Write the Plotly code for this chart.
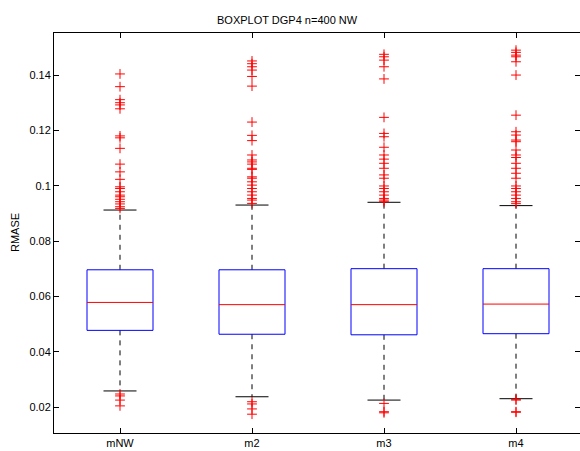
import plotly.graph_objects as go

categories = ["mNW", "m2", "m3", "m4"]
q1 = [0.0477, 0.0463, 0.0461, 0.0465]
median = [0.0578, 0.0570, 0.0570, 0.0572]
q3 = [0.0696, 0.0696, 0.0700, 0.0700]
lower_whisker = [0.0258, 0.0237, 0.0225, 0.0230]
upper_whisker = [0.0912, 0.0930, 0.0940, 0.0928]

outliers_mNW = [0.1404, 0.1358, 0.1311, 0.1300, 0.1292, 0.1278, 0.1180, 0.1173, 0.1135,
                0.1078, 0.1050, 0.1023, 0.0996, 0.0990, 0.0978, 0.0966, 0.0960, 0.0951,
                0.0942, 0.0934, 0.0924, 0.0918,
                0.0247, 0.0240, 0.0225, 0.0204]
outliers_m2 = [0.1451, 0.1441, 0.1430, 0.1418, 0.1395, 0.1360, 0.1230, 0.1182, 0.1163,
               0.1111, 0.1093, 0.1086, 0.1078, 0.1063, 0.1059, 0.1032, 0.1027, 0.1014,
               0.1002, 0.0990, 0.0978, 0.0966, 0.0954, 0.0948, 0.0936,
               0.0219, 0.0211, 0.0193, 0.0174]
outliers_m3 = [0.1475, 0.1466, 0.1454, 0.1430, 0.1386, 0.1247, 0.1189, 0.1177, 0.1139,
               0.1111, 0.1096, 0.1081, 0.1063, 0.1039, 0.1027, 0.0999, 0.0990, 0.0978,
               0.0966, 0.0954, 0.0948, 0.0942,
               0.0213, 0.0183, 0.0179]
outliers_m4 = [0.1490, 0.1482, 0.1472, 0.1466, 0.1448, 0.1400, 0.1255, 0.1195, 0.1183,
               0.1165, 0.1159, 0.1129, 0.1111, 0.1102, 0.1081, 0.1063, 0.1045, 0.1027,
               0.0999, 0.0990, 0.0978, 0.0966, 0.0954, 0.0942, 0.0935,
               0.0228, 0.0225, 0.0183, 0.0181]
outliers = [outliers_mNW, outliers_m2, outliers_m3, outliers_m4]

yticks = [0.02, 0.04, 0.06, 0.08, 0.1, 0.12, 0.14]

BOX_HALF = 0.25
CAP_HALF = 0.125

fig = go.Figure()
for i, name in enumerate(categories):
    x = i + 1
    # whiskers (dashed)
    fig.add_trace(go.Scatter(x=[x, x, None, x, x],
                             y=[q3[i], upper_whisker[i], None, q1[i], lower_whisker[i]],
                             mode="lines", line=dict(color="black", width=1, dash="5px,5px"),
                             showlegend=False, hoverinfo="skip"))
    # caps
    fig.add_trace(go.Scatter(x=[x - CAP_HALF, x + CAP_HALF, None, x - CAP_HALF, x + CAP_HALF],
                             y=[upper_whisker[i], upper_whisker[i], None, lower_whisker[i], lower_whisker[i]],
                             mode="lines", line=dict(color="black", width=1),
                             showlegend=False, hoverinfo="skip"))
    # box
    fig.add_trace(go.Scatter(x=[x - BOX_HALF, x + BOX_HALF, x + BOX_HALF, x - BOX_HALF, x - BOX_HALF],
                             y=[q1[i], q1[i], q3[i], q3[i], q1[i]],
                             mode="lines", line=dict(color="#0000FF", width=1),
                             showlegend=False, hoverinfo="skip"))
    # median
    fig.add_trace(go.Scatter(x=[x - BOX_HALF, x + BOX_HALF], y=[median[i], median[i]],
                             mode="lines", line=dict(color="#FF0000", width=1),
                             showlegend=False, hoverinfo="skip"))
    # outliers
    fig.add_trace(go.Scatter(x=[x] * len(outliers[i]), y=outliers[i], mode="markers",
                             marker=dict(symbol="cross-thin", size=7,
                                         line=dict(color="#FF0000", width=1)),
                             showlegend=False))

FAM = "Liberation Sans, Arial, sans-serif"
font = dict(family=FAM, size=11, color="black")
fig.update_layout(
    width=580, height=451,
    margin=dict(l=54, r=0, t=33, b=18, autoexpand=False),
    paper_bgcolor="white", plot_bgcolor="white",
    font=font,
    title=dict(text="BOXPLOT DGP4 n=400 NW", x=0.495, xref="container", xanchor="center",
               y=1 - 20 / 451, yref="container", yanchor="middle", automargin=False,
               font=dict(family=FAM, size=11, color="black")),
    xaxis=dict(range=[0.5, 0.5 + 526 / 132], tickvals=[1, 2, 3, 4], ticktext=categories,
               showgrid=False, zeroline=False, showline=True, linecolor="black", linewidth=1,
               mirror="ticks", ticks="inside", ticklen=5, tickcolor="black",
               automargin=False, ticklabelstandoff=0),
    yaxis=dict(range=[0.0106, 0.1552], tickvals=yticks, showgrid=False, zeroline=False,
               showline=True, linecolor="black", linewidth=1, mirror="ticks",
               ticks="inside", ticklen=5, tickcolor="black", automargin=False),
    annotations=[dict(text="RMASE", x=(15 - 54) / 526, xref="paper", y=0.5, yref="paper",
                      showarrow=False, textangle=-90, font=font,
                      xanchor="center", yanchor="middle")],
)

fig.write_html("out.html", config={"displayModeBar": False},
               post_script="document.body.style.margin='0';document.body.style.overflow='hidden';")
